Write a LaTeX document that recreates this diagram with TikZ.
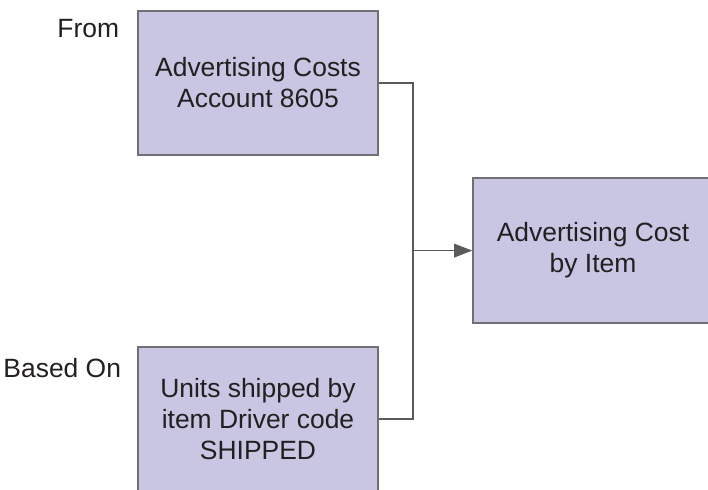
\documentclass[tikz,border=0pt]{standalone}
\usepackage{fontspec}
\setmainfont{Liberation Sans}
\usepackage{tikz}
\usetikzlibrary{arrows.meta}
\definecolor{boxfill}{RGB}{200,198,226}
\definecolor{boxline}{RGB}{112,112,116}
\definecolor{wire}{RGB}{90,90,92}
\definecolor{ink}{RGB}{35,31,32}

\begin{document}
\begin{tikzpicture}[font=\fontsize{18.8}{22}\selectfont, text=ink,
	box/.style={draw=boxline, line width=1.1pt, fill=boxfill, minimum width=6cm, minimum height=3.6cm, inner sep=0pt, align=center},
	side/.style={anchor=base east},
	wirestyle/.style={draw=wire, line width=0.9pt}]
			\useasboundingbox (0,0) rectangle (17.7,12.225);
			\node[box] (acct) at (6.45,10.15) {Advertising Costs\\Account 8605};
			\node[box] (units) at (6.45,1.75) {Units shipped by\\item Driver code\\SHIPPED};
			\node[box, minimum height=3.625cm] (result) at (14.825,5.96) {Advertising Cost\\by Item};
			\node[side] (from) at (3.1,11.3) {From};
			\node[side] (basedon) at (3.15,2.8) {Based On};
			\coordinate (join) at (10.325,5.96);
			\draw[wirestyle] (acct.east) -| (join);
			\draw[wirestyle] (units.east) -| (join);
			\draw[wirestyle, -{Triangle[length=0.45cm, width=0.34cm]}] (join) -- (result.west);
		\end{tikzpicture}
\end{document}
